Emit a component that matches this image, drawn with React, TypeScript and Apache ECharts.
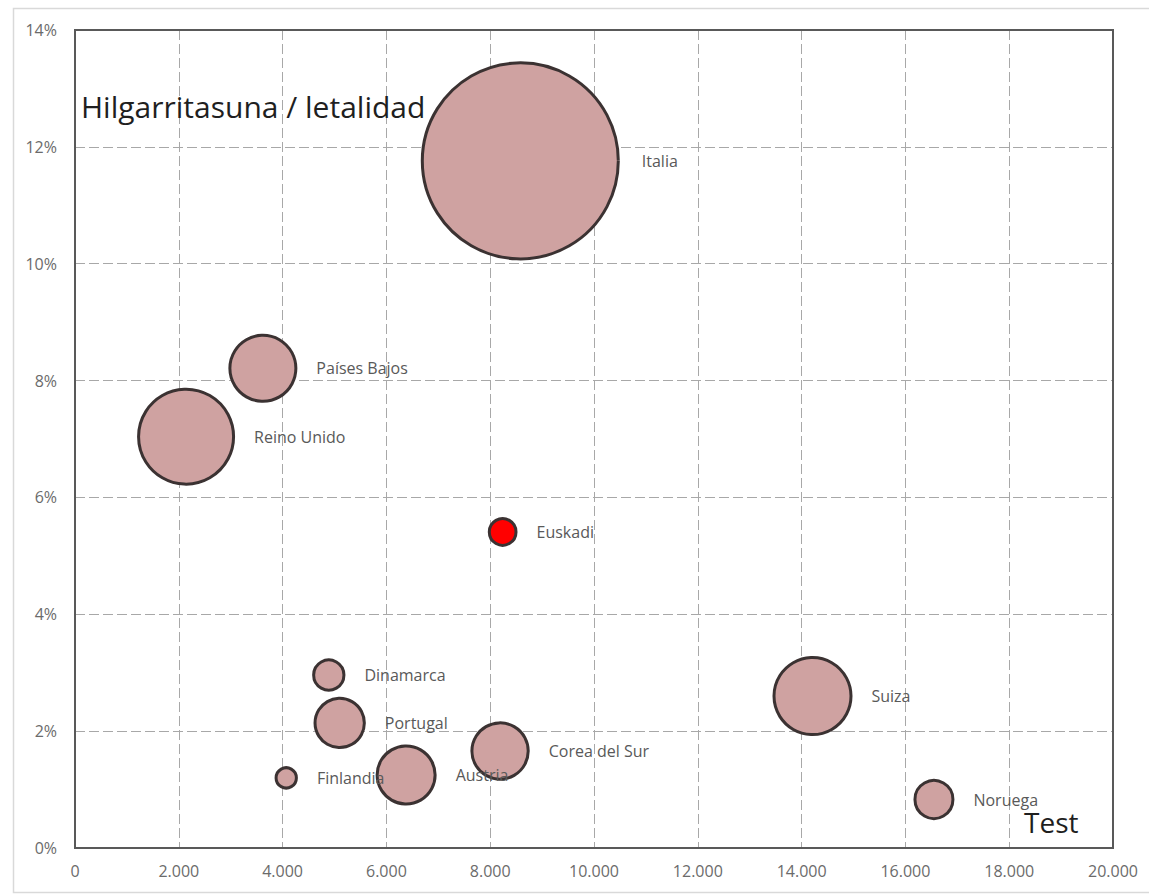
import React, { useEffect, useRef } from "react";
import * as echarts from "echarts";

const countries = ["Italia", "Países Bajos", "Reino Unido", "Euskadi", "Dinamarca", "Portugal", "Finlandia", "Austria", "Corea del Sur", "Suiza", "Noruega"];
const tests = [8580, 3620, 2140, 8240, 4890, 5100, 4070, 6380, 8190, 14210, 16550];
const lethality = [0.1176, 0.0821, 0.0704, 0.0541, 0.0296, 0.0214, 0.0120, 0.0125, 0.0166, 0.0260, 0.0083];
const bubbleSize = [10000, 1202, 2425, 223, 280, 691, 137, 940, 888, 1616, 424];
const highlight = ["Euskadi"];
const xTicks = [0, 2000, 4000, 6000, 8000, 10000, 12000, 14000, 16000, 18000, 20000];
const yTicks = [0, 0.02, 0.04, 0.06, 0.08, 0.1, 0.12, 0.14];
const titleText = "Hilgarritasuna / letalidad";
const xAxisText = "Test";

const FONT = "'Open Sans', sans-serif";

function fmtThousands(v: number): string {
  const s = String(Math.round(v));
  return s.replace(/\B(?=(\d{3})+(?!\d))/g, ".");
}

export default function App() {
  const ref = useRef<HTMLDivElement>(null);
  useEffect(() => {
    if (!ref.current) return;
    const chart = echarts.init(ref.current, undefined, { renderer: "svg" });
    const maxSize = Math.max(...bubbleSize);
    const data = countries.map((name, i) => ({
      name,
      value: [tests[i], lethality[i], bubbleSize[i]],
      symbolSize: 199 * Math.sqrt(bubbleSize[i] / maxSize) - 3,
      itemStyle: {
        color: highlight.includes(name) ? "#ff0000" : "#cfa2a1",
      },
      label: { distance: name === "Italia" ? 22 : 19 },
    }));
    const split = {
      show: true,
      showMinLine: false,
      showMaxLine: false,
      lineStyle: { color: "#a8a8a8", type: [10, 4], width: 1 },
    };
    chart.setOption({
      animation: false,
      backgroundColor: "#ffffff",
      textStyle: { fontFamily: FONT },
      grid: {
        left: 75,
        top: 30,
        right: 36,
        bottom: 46,
        show: false,
      },
      xAxis: {
        type: "value",
        min: xTicks[0],
        max: xTicks[xTicks.length - 1],
        interval: 2000,
        axisLine: { show: false },
        axisTick: { show: false },
        axisLabel: {
          color: "#6b6b6b",
          fontSize: 16,
          fontFamily: FONT,
          margin: 15,
          formatter: (v: number) => fmtThousands(v),
        },
        splitLine: split,
      },
      yAxis: {
        type: "value",
        min: yTicks[0],
        max: yTicks[yTicks.length - 1],
        interval: 0.02,
        axisLine: { show: false },
        axisTick: { show: false },
        axisLabel: {
          color: "#6b6b6b",
          fontSize: 16,
          fontFamily: FONT,
          margin: 18,
          formatter: (v: number) => Math.round(v * 100) + "%",
        },
        splitLine: split,
      },
      series: [
        {
          type: "scatter",
          data,
          z: 3,
          itemStyle: {
            borderColor: "#3b3232",
            borderWidth: 3,
            opacity: 1,
          },
          label: {
            show: true,
            position: "right",
            formatter: (p: any) => p.name,
            color: "#595959",
            fontSize: 16,
            fontFamily: FONT,
          },
          emphasis: { disabled: true },
        },
      ],
      graphic: [
        {
          type: "rect",
          left: 11,
          top: 6,
          z: -10,
          silent: true,
          shape: { x: 0, y: 0, width: 1200, height: 884 },
          style: { fill: "none", stroke: "#d9d9d9", lineWidth: 1.5 },
        },
        {
          type: "rect",
          x: 75,
          y: 30,
          z: 2,
          silent: true,
          shape: { x: 0, y: 0, width: 1038, height: 818 },
          style: { fill: "none", stroke: "#595959", lineWidth: 2 },
        },
        {
          type: "text",
          x: 81,
          y: 106,
          z: 5,
          style: {
            text: titleText,
            font: "30px 'Open Sans', sans-serif",
            fill: "#1f1f1f",
            verticalAlign: "middle",
            align: "left",
          },
        },
        {
          type: "text",
          x: 1024,
          y: 822,
          z: 5,
          style: {
            text: xAxisText,
            font: "28px 'Open Sans', sans-serif",
            fill: "#1f1f1f",
            verticalAlign: "middle",
            align: "left",
          },
        },
      ],
    });
    return () => chart.dispose();
  }, []);
  return (
    <div
      ref={ref}
      style={{ position: "fixed", left: 0, top: 0, width: 1149, height: 894 }}
    />
  );
}
